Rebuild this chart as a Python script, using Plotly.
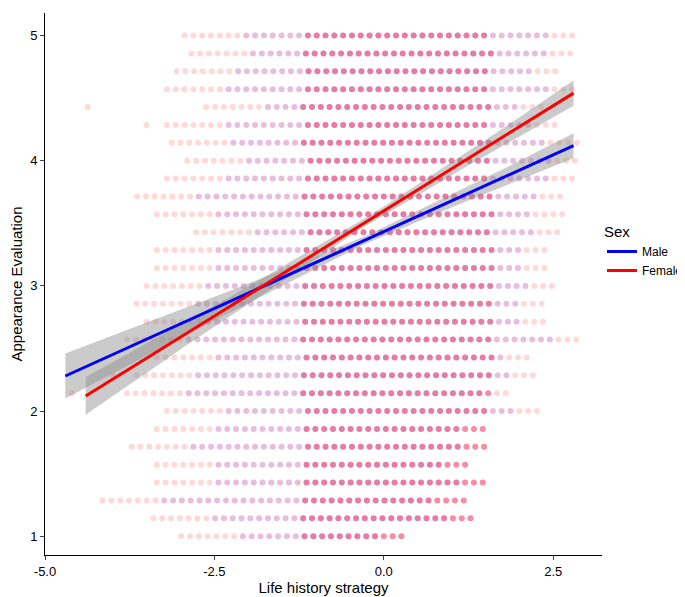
import plotly.graph_objects as go
import numpy as np

# Row levels (Appearance Evaluation) and observed x extents per row
row_y = [1 + k/7 for k in range(29)]
row_xmin = [-2.99,-3.4,-4.15,-3.35,-3.35,-3.72,-3.35,-3.2,-3.79,-3.65,-3.35,-3.79,-3.5,-3.65,-3.5,-3.35,-3.35,-2.77,-3.35,-3.64,-3.2,-2.9,-3.13,-3.2,-2.62,-3.2,-3.06,-2.84,-2.94]
row_xmax = [0.3,1.32,1.18,1.47,1.32,1.54,1.54,2.27,1.9,2.27,2.2,2.85,2.42,2.42,2.6,2.42,2.42,2.63,2.63,2.63,2.85,2.85,2.85,2.63,2.42,2.85,2.63,2.85,2.85]
male_shrink = [0.8]*29
x_step = 0.13
# isolated outliers
out_x = [-4.37, -3.5, -4.0, -4.6]
out_y = [4.429, 4.286, 2.286, 2.143]

# Regression lines
male_x = [-4.7, 2.8]; male_y = [2.28, 4.12]
female_x = [-4.4, 2.8]; female_y = [2.12, 4.54]
male_ci_x = [-4.7, -2.5, -0.3, 1.5, 2.8]; male_ci_hw = [0.18, 0.09, 0.03, 0.06, 0.1]
female_ci_x = [-4.4, -2.5, -0.3, 1.5, 2.8]; female_ci_hw = [0.15, 0.08, 0.03, 0.06, 0.1]

fig = go.Figure()
fx, fy, mx, my, cx_, cy_ = [], [], [], [], [], []
for y, a, b, s in zip(row_y, row_xmin, row_xmax, male_shrink):
    xs = np.arange(a, b + 1e-9, x_step)
    fx += list(xs); fy += [y]*len(xs)
    xm = xs[(xs > a + s) & (xs < b - s/2)]
    mx += list(xm); my += [y]*len(xm)
    xc = xs[(xs > -1.2) & (xs < 1.6)]
    cx_ += list(xc); cy_ += [y]*len(xc)
fig.add_trace(go.Scatter(x=fx + out_x, y=fy + out_y, mode='markers', showlegend=False, hoverinfo='skip',
    marker=dict(size=6, color='rgba(255,0,0,0.15)')))
fig.add_trace(go.Scatter(x=mx, y=my, mode='markers', showlegend=False, hoverinfo='skip',
    marker=dict(size=6, color='rgba(60,0,255,0.12)')))
fig.add_trace(go.Scatter(x=cx_, y=cy_, mode='markers', showlegend=False, hoverinfo='skip',
    marker=dict(size=6, color='rgba(230,0,60,0.35)')))

def ribbon(lx, ly, cx, chw):
    xs = np.linspace(lx[0], lx[1], 40)
    ys = np.interp(xs, lx, ly)
    hw = np.interp(xs, cx, chw)
    fig.add_trace(go.Scatter(x=list(xs)+list(xs[::-1]), y=list(ys+hw)+list((ys-hw)[::-1]),
        fill='toself', fillcolor='rgba(140,140,140,0.45)', line=dict(width=0),
        showlegend=False, hoverinfo='skip'))
ribbon(male_x, male_y, male_ci_x, male_ci_hw)
ribbon(female_x, female_y, female_ci_x, female_ci_hw)
fig.add_trace(go.Scatter(x=male_x, y=male_y, mode='lines', name='Male', line=dict(color='blue', width=3)))
fig.add_trace(go.Scatter(x=female_x, y=female_y, mode='lines', name='Female', line=dict(color='red', width=3)))

fig.update_layout(width=685, height=597, plot_bgcolor='white', paper_bgcolor='white',
    margin=dict(l=37, r=85, t=5, b=50),
    font=dict(family='Liberation Sans, Arial', size=13, color='black'),
    legend=dict(title=dict(text='Sex', font=dict(size=15)), x=1.0, y=0.56, yanchor='middle',
                bgcolor='white', font=dict(size=12)),
    xaxis=dict(range=[-5.0, 3.22], tickvals=[-5, -2.5, 0, 2.5], ticktext=['-5.0','-2.5','0.0','2.5'],
               showgrid=False, zeroline=False, showline=True, linecolor='black', ticks='outside',
               ticklen=4, title=dict(text='Life history strategy', font=dict(size=15), standoff=4)),
    yaxis=dict(range=[0.85, 5.18], tickvals=[1,2,3,4,5], showgrid=False, zeroline=False,
               showline=True, linecolor='black', ticks='outside', ticklen=4,
               title=dict(text='Appearance Evaluation', font=dict(size=15), standoff=5)))
fig.write_html('out.html')
